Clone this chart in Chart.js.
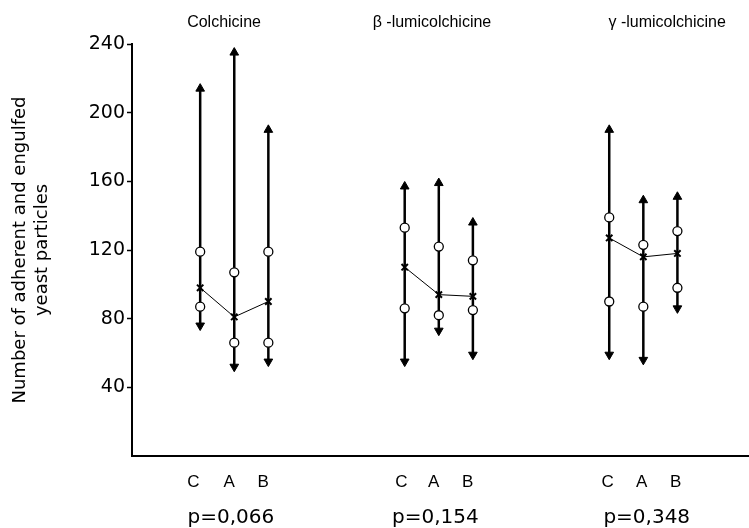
<!DOCTYPE html>
<html lang="en">
<head>
  <meta charset="UTF-8" />
  <title>Adherent and engulfed yeast particles</title>
  <script src="https://cdn.jsdelivr.net/npm/chart.js"></script>
  <style>
    html, body { margin: 0; padding: 0; background: #fff; }
    #wrap { width: 749px; height: 528px; position: relative; }
  </style>
</head>
<body>
  <div id="wrap"><canvas id="myChart"></canvas></div>

  <script>
    // drug groups and treatments inside each group
    const groups = ['Colchicine', 'β -lumicolchicine', 'γ -lumicolchicine'];
    const titlePositions = [2.7, 8.8, 15.7];
    const pValues = ['p=0,066', 'p=0,154', 'p=0,348'];
    const pPositions = [2.9, 8.9, 15.1];
    const treatments = ['C', 'A', 'B', 'C', 'A', 'B', 'C', 'A', 'B'];
    const labelPositions = [1.8, 2.85, 3.85, 7.9, 8.85, 9.85, 13.95, 14.95, 15.95];
    const xPositions = [2, 3, 4, 8, 9, 10, 14, 15, 16];

    // values (range ends, open circles, mean x)
    const rangeTop    = [214, 235, 190, 157, 159, 136, 190, 149, 151];
    const upperCircle = [119, 107, 119, 133, 122, 114, 139, 123, 131];
    const meanValues  = [ 98,  81,  90, 110,  94,  93, 127, 116, 118];
    const lowerCircle = [ 87,  66,  66,  86,  82,  85,  90,  87,  98];
    const rangeBottom = [ 76,  52,  55,  55,  73,  59,  59,  56,  86];

    const yTicks = [40, 80, 120, 160, 200, 240];

    // build point lists, null breaks the line between columns / groups
    const rangePts = [];
    xPositions.forEach((x, i) => {
      rangePts.push({ x: x, y: rangeTop[i] });
      rangePts.push({ x: x, y: rangeBottom[i] });
      rangePts.push({ x: x, y: null });
    });

    const circlePts = [];
    xPositions.forEach((x, i) => {
      circlePts.push({ x: x, y: upperCircle[i] });
      circlePts.push({ x: x, y: lowerCircle[i] });
    });

    const meanPts = [];
    xPositions.forEach((x, i) => {
      meanPts.push({ x: x, y: meanValues[i] });
      if (i % 3 === 2) meanPts.push({ x: x, y: null });
    });

    const X_MIN = 0, X_MAX = 18.1;

    // horizontal axes: no extra side padding so the x axis runs to the edge
    function noSidePad(s, h) {
      s.height = h;
      s.paddingLeft = 0;
      s.paddingRight = 0;
    }

    new Chart(document.getElementById('myChart'), {
      type: 'line',
      data: {
        datasets: [
          {
            // open circles
            data: circlePts,
            showLine: false,
            pointStyle: 'circle',
            pointRadius: 4.5,
            pointBackgroundColor: '#fff',
            pointBorderColor: '#000',
            pointBorderWidth: 1.3
          },
          {
            // means, joined inside each group
            data: meanPts,
            spanGaps: false,
            borderColor: '#000',
            borderWidth: 1,
            pointStyle: 'crossRot',
            pointRadius: 4.5,
            pointBorderColor: '#000',
            pointBorderWidth: 2
          },
          {
            // ranges with arrow heads
            data: rangePts,
            spanGaps: false,
            borderColor: '#000',
            borderWidth: 2.5,
            pointStyle: 'triangle',
            pointRadius: ctx => (ctx.raw && ctx.raw.y != null ? 5 : 0),
            pointRotation: ctx => (ctx.dataIndex % 3 === 0 ? 0 : 180),
            pointBackgroundColor: '#000',
            pointBorderColor: '#000',
            pointBorderWidth: 1
          }
        ]
      },
      options: {
        responsive: true,
        maintainAspectRatio: false,
        animation: false,
        layout: { autoPadding: false, padding: { left: 8, right: 0, top: 0, bottom: 0 } },
        plugins: {
          legend: { display: false },
          tooltip: { enabled: false }
        },
        scales: {
          x: {
            type: 'linear',
            position: 'bottom',
            weight: 0,
            min: X_MIN, max: X_MAX,
            afterBuildTicks: s => { s.ticks = labelPositions.map(v => ({ value: v })); },
            afterFit: s => noSidePad(s, 45),
            ticks: {
              autoSkip: false, maxRotation: 0, padding: 16,
              color: '#000',
              font: { family: 'Liberation Sans', size: 17 },
              callback: (v, i) => treatments[i]
            },
            grid: { display: false, drawTicks: false },
            border: { display: true, color: '#000', width: 2 }
          },
          xp: {
            type: 'linear',
            position: 'bottom',
            weight: 1,
            min: X_MIN, max: X_MAX,
            afterBuildTicks: s => { s.ticks = pPositions.map(v => ({ value: v })); },
            afterFit: s => noSidePad(s, 27),
            ticks: {
              autoSkip: false, maxRotation: 0, padding: 5,
              color: '#000',
              font: { family: 'DejaVu Sans', size: 20 },
              callback: (v, i) => pValues[i]
            },
            grid: { display: false, drawTicks: false },
            border: { display: false }
          },
          xt: {
            type: 'linear',
            position: 'top',
            min: X_MIN, max: X_MAX,
            afterBuildTicks: s => { s.ticks = titlePositions.map(v => ({ value: v })); },
            afterFit: s => noSidePad(s, 44),
            ticks: {
              autoSkip: false, maxRotation: 0, padding: 12,
              color: '#000',
              font: { family: 'Liberation Sans', size: 16 },
              callback: (v, i) => groups[i]
            },
            grid: { display: false, drawTicks: false },
            border: { display: false }
          },
          y: {
            min: 0, max: 240,
            afterBuildTicks: s => { s.ticks = [0].concat(yTicks).map(v => ({ value: v })); },
            afterFit: s => { s.width = 124; },
            ticks: {
              color: '#000',
              padding: 2,
              font: { family: 'DejaVu Sans', size: 19 },
              callback: v => (v === 0 ? '' : v)
            },
            grid: {
              drawOnChartArea: false,
              tickLength: 5,
              tickWidth: 1.5,
              color: ctx => (ctx.tick && ctx.tick.value === 0 ? 'rgba(0,0,0,0)' : '#000')
            },
            border: { display: true, color: '#000', width: 2 },
            title: {
              display: true,
              text: ['Number of adherent and engulfed', 'yeast particles'],
              color: '#000',
              font: { family: 'DejaVu Sans', size: 18, lineHeight: 1.2 },
              padding: { top: 2, bottom: 0 }
            }
          }
        }
      }
    });
  </script>
</body>
</html>
